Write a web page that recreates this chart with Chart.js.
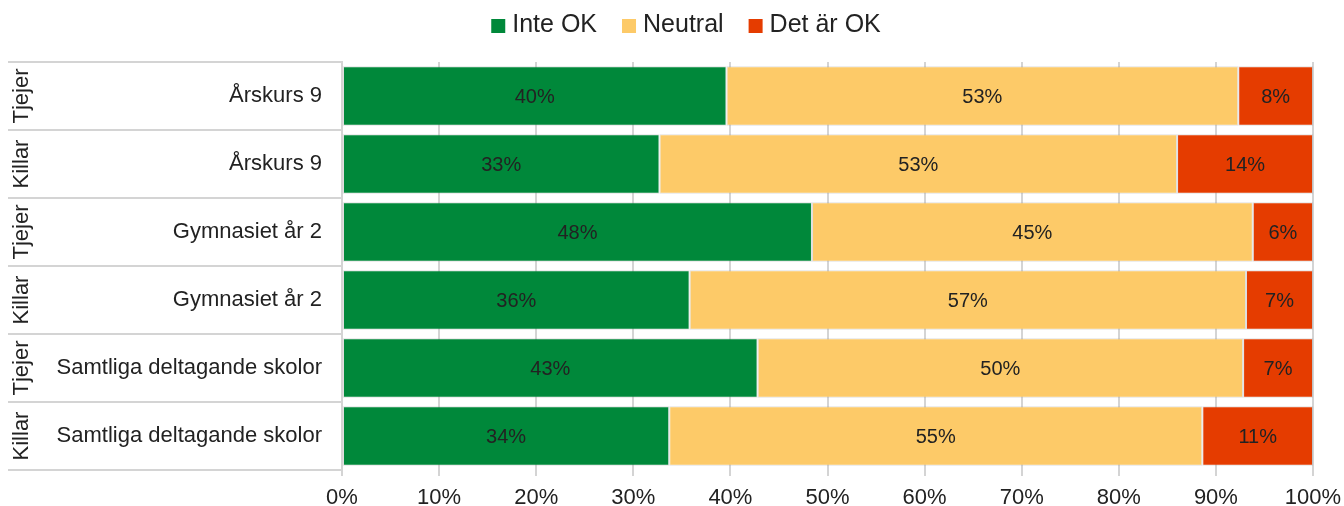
<!DOCTYPE html>
<html lang="sv">
<head>
<meta charset="utf-8">
<title>Inte OK / Neutral / Det är OK</title>
<script src="https://cdn.jsdelivr.net/npm/chart.js@4.4.1/dist/chart.umd.min.js"></script>
<style>
  html, body { margin: 0; padding: 0; background: #fff; }
  #wrap { width: 1344px; height: 506px; position: relative; }
</style>
</head>
<body>
<div id="wrap"><canvas id="chart"></canvas></div>
<script>
  'use strict';

  // Rows, top to bottom
  var categories = ['Årskurs 9', 'Årskurs 9', 'Gymnasiet år 2', 'Gymnasiet år 2',
                    'Samtliga deltagande skolor', 'Samtliga deltagande skolor'];
  var groups = ['Tjejer', 'Killar', 'Tjejer', 'Killar', 'Tjejer', 'Killar'];

  // Shares in percent per row
  var inteOk  = [39.6, 32.7, 48.4, 35.8, 42.8, 33.7];
  var neutral = [52.7, 53.3, 45.4, 57.3, 50.0, 54.9];
  var detArOk = [7.7, 14.0, 6.2, 6.9, 7.2, 11.4];

  var seriesNames = ['Inte OK', 'Neutral', 'Det är OK'];
  var seriesColors = ['#00883a', '#fdca68', '#e53c00'];
  var xTicks = [0, 10, 20, 30, 40, 50, 60, 70, 80, 90, 100];

  var FONT = "'Liberation Sans', Arial, sans-serif";
  var TEXT = '#222222';
  var LINE = '#d4d4d4';

  // Single-row legend above the plot: square swatch, short gap, name
  var topLegend = {
    id: 'topLegend',
    afterDraw: function(chart) {
      var ctx = chart.ctx;
      var box = 14, gap = 7, itemGap = 25, centerX = 686, y = 25;
      ctx.save();
      ctx.font = '25px ' + FONT;
      ctx.textBaseline = 'middle';
      ctx.textAlign = 'left';
      var items = chart.data.datasets.map(function(ds) {
        return { text: ds.label, color: ds.backgroundColor, w: ctx.measureText(ds.label).width };
      });
      var total = items.reduce(function(s, it) { return s + box + gap + it.w; }, 0)
                  + itemGap * (items.length - 1);
      var x = centerX - total / 2;
      items.forEach(function(it) {
        ctx.fillStyle = it.color;
        ctx.fillRect(x, y + 1 - box / 2, box, box);
        ctx.fillStyle = TEXT;
        ctx.fillText(it.text, x + box + gap, y);
        x += box + gap + it.w + itemGap;
      });
      ctx.restore();
    }
  };

  // Row separators and rotated group names on the left side
  var rowTable = {
    id: 'rowTable',
    afterDraw: function(chart) {
      var ctx = chart.ctx;
      var area = chart.chartArea;
      var n = categories.length;
      var step = (area.bottom - area.top) / n;
      ctx.save();
      ctx.strokeStyle = LINE;
      ctx.lineWidth = 2;
      for (var i = 0; i <= n; i++) {
        var y = Math.round(area.top + i * step);
        ctx.beginPath();
        ctx.moveTo(8, y);
        ctx.lineTo(area.left, y);
        ctx.stroke();
      }
      ctx.fillStyle = TEXT;
      ctx.font = '22px ' + FONT;
      ctx.textAlign = 'center';
      ctx.textBaseline = 'middle';
      for (var j = 0; j < n; j++) {
        var cy = area.top + (j + 0.5) * step;
        ctx.save();
        ctx.translate(22, cy);
        ctx.rotate(-Math.PI / 2);
        ctx.fillText(groups[j], 0, 0);
        ctx.restore();
      }
      ctx.restore();
    }
  };

  // Rounded percent inside each segment
  var segmentLabels = {
    id: 'segmentLabels',
    afterDatasetsDraw: function(chart) {
      var ctx = chart.ctx;
      ctx.save();
      ctx.fillStyle = TEXT;
      ctx.font = '20px ' + FONT;
      ctx.textAlign = 'center';
      ctx.textBaseline = 'middle';
      chart.data.datasets.forEach(function(ds, di) {
        chart.getDatasetMeta(di).data.forEach(function(bar, i) {
          var x = (bar.x + bar.base) / 2;
          ctx.fillText(Math.round(ds.data[i]) + '%', x, bar.y + 1);
        });
      });
      ctx.restore();
    }
  };

  var datasets = [inteOk, neutral, detArOk].map(function(values, k) {
    return {
      label: seriesNames[k],
      data: values,
      backgroundColor: seriesColors[k],
      borderColor: 'rgba(150,150,150,0.3)',
      borderWidth: 1,
      borderSkipped: false,
      barPercentage: 0.875,
      categoryPercentage: 1
    };
  });

  Chart.defaults.font.family = FONT;
  Chart.defaults.color = TEXT;

  new Chart(document.getElementById('chart'), {
    type: 'bar',
    data: { labels: categories, datasets: datasets },
    plugins: [topLegend, rowTable, segmentLabels],
    options: {
      indexAxis: 'y',
      responsive: true,
      maintainAspectRatio: false,
      animation: false,
      layout: { padding: { left: 0, right: 31, top: 62, bottom: 0 } },
      plugins: {
        legend: { display: false },
        tooltip: { enabled: false }
      },
      scales: {
        x: {
          stacked: true,
          min: 0,
          max: 100,
          afterBuildTicks: function(scale) {
            scale.ticks = xTicks.map(function(v) { return { value: v }; });
          },
          afterFit: function(scale) {
            scale.height = 36;
            scale.paddingLeft = 0;
            scale.paddingRight = 0;
          },
          ticks: {
            color: TEXT,
            font: { size: 22, family: FONT, lineHeight: 1 },
            padding: 11,
            maxRotation: 0,
            callback: function(v) { return v + '%'; }
          },
          grid: { color: LINE, lineWidth: 2, tickLength: 6, drawTicks: true },
          border: { display: false }
        },
        y: {
          stacked: true,
          afterFit: function(scale) { scale.width = 342; },
          ticks: {
            color: TEXT,
            font: { size: 22, family: FONT },
            padding: 20
          },
          grid: { display: false, drawTicks: false },
          border: { display: true, color: LINE, width: 2 }
        }
      }
    }
  });
</script>
</body>
</html>
